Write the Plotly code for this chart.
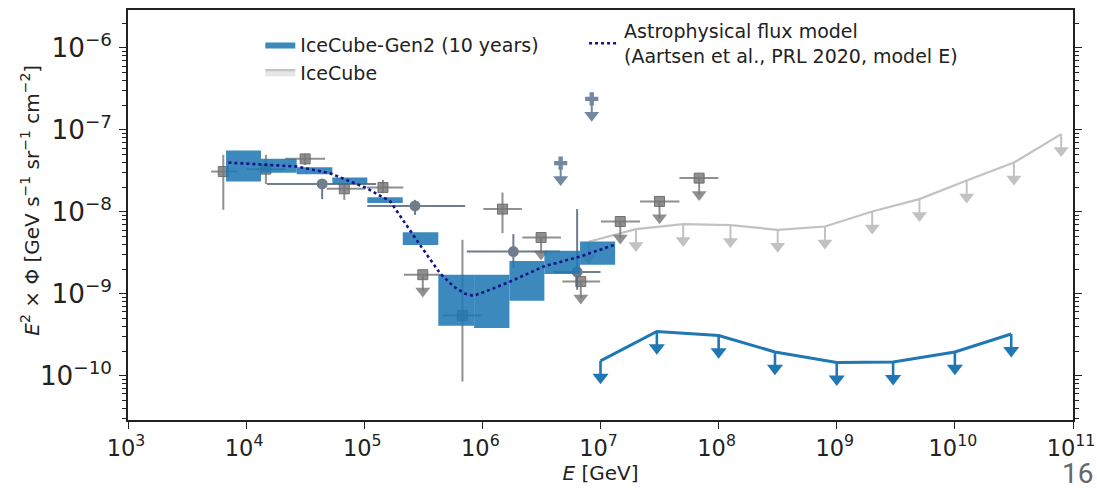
import numpy as np
import plotly.graph_objects as go

# ---------------- data ----------------
# IceCube-Gen2 (10 years): projected flux bands per energy bin
gen2_bin_edges = [10**3.83, 10**4.126, 10**4.428, 10**4.73, 10**5.026, 10**5.326,
                  10**5.627, 10**5.93, 10**6.229, 10**6.525, 10**6.827, 10**7.124]
gen2_flux_lo = [2.34e-8, 3.01e-8, 2.88e-8, 2.19e-8, 1.28e-8, 3.93e-9,
                4.07e-10, 3.82e-10, 8.22e-10, 1.75e-9, 2.26e-9]
gen2_flux_hi = [5.60e-8, 4.43e-8, 3.51e-8, 2.63e-8, 1.51e-8, 5.65e-9,
                1.71e-9, 1.71e-9, 2.52e-9, 3.34e-9, 4.35e-9]

# IceCube-Gen2 (10 years): UHE differential upper limits
gen2_ul_E = [1e7, 3e7, 1e8, 3e8, 1e9, 3e9, 1e10, 3e10]
gen2_ul_flux = [1.52e-10, 3.47e-10, 3.10e-10, 1.95e-10, 1.45e-10, 1.47e-10, 1.95e-10, 3.23e-10]

# Astrophysical flux model (Aartsen et al., PRL 2020, model E)
model_E = [10**3.85, 10**4.43, 10**4.71, 10**5.02, 10**5.22, 10**5.41, 10**5.47, 10**5.64,
           10**5.755, 10**5.853, 10**5.924, 10**6.065, 10**6.235, 10**6.517, 10**6.827, 10**7.124]
model_flux = [3.99e-8, 3.57e-8, 2.96e-8, 1.95e-8, 1.34e-8, 5.25e-9, 3.98e-9, 1.79e-9,
              1.23e-9, 1.00e-9, 9.46e-10, 1.12e-9, 1.41e-9, 2.15e-9, 2.85e-9, 3.98e-9]

# IceCube: unfolded spectrum (squares)
sq_E = [6.41e3, 1.47e4, 3.16e4, 6.78e4, 1.44e5, 6.78e5, 1.48e6]
sq_E_lo = [5.05e3, 1.00e4, 2.13e4, 4.81e4, 1.05e5, 4.65e5, 1.02e6]
sq_E_hi = [8.38e3, 2.14e4, 4.66e4, 1.02e5, 2.14e5, 9.89e5, 2.16e6]
sq_flux = [3.10e-8, 3.32e-8, 4.43e-8, 1.91e-8, 1.98e-8, 5.43e-10, 1.08e-8]
sq_flux_lo = [1.06e-8, 2.19e-8, 3.74e-8, 1.40e-8, 1.69e-8, 8.5e-11, 5.5e-9]
sq_flux_hi = [4.95e-8, 4.95e-8, 5.09e-8, 2.19e-8, 2.45e-8, 4.56e-9, 1.72e-8]

# IceCube: unfolded spectrum upper limits (squares)
sq_ul_E = [3.13e5, 3.14e6, 6.81e6, 1.47e7, 3.16e7, 6.84e7]
sq_ul_E_lo = [2.17e5, 2.18e6, 4.75e6, 1.01e7, 2.16e7, 4.66e7]
sq_ul_E_hi = [4.53e5, 4.63e6, 9.93e6, 2.16e7, 4.66e7, 9.95e7]
sq_ul_flux = [1.71e-9, 4.86e-9, 1.41e-9, 7.62e-9, 1.34e-8, 2.58e-8]

# IceCube: cascade spectrum (circles)
circ_E = [4.40e4, 2.69e5, 1.83e6, 6.34e6]
circ_E_lo = [1.50e4, 1.06e5, 7.38e5, 3.98e6]
circ_E_hi = [1.26e5, 7.14e5, 4.55e6, 1.00e7]
circ_flux = [2.19e-8, 1.18e-8, 3.28e-9, 1.85e-9]
circ_flux_lo = [1.43e-8, 9.18e-9, 2.09e-9, 1.12e-9]
circ_flux_hi = [2.51e-8, 1.40e-8, 5.35e-9, 1.08e-8]

# IceCube: cascade spectrum upper limits (crosses)
cross_ul_E = [4.60e6, 8.43e6]
cross_ul_flux = [3.93e-8, 2.39e-7]

# IceCube: EHE differential upper limits
ehe_E = [10**6.9, 10**7.3, 10**7.7, 10**8.1, 10**8.5, 10**8.9,
         10**9.3, 10**9.7, 10**10.1, 10**10.5, 10**10.9]
ehe_flux = [4.31e-9, 6.15e-9, 7.08e-9, 6.89e-9, 6.03e-9, 6.62e-9,
            1.01e-8, 1.43e-8, 2.41e-8, 3.99e-8, 8.87e-8]

# ---------------- styling ----------------
BLUE = "#1f77b4"
BOX_FILL = "rgba(31,119,180,0.87)"
GRAY_SQ = "rgba(120,120,120,0.82)"
SLATE = "#56677a"
SLATE_LIGHT = "#7389a2"
EHE_GRAY = "#c2c2c2"
NAVY = "#14148a"
FONT = "DejaVu Sans"
ARROW_STEM = 10 ** (-0.2)   # arrow head centre, in decades below the limit

fig = go.Figure()


def add_upper_limits(E, flux, color, head_size, stem_width):
    """Draw down arrows below each upper limit value."""
    xs, ys = [], []
    for e, f in zip(E, flux):
        xs += [e, e, None]
        ys += [f, f * ARROW_STEM, None]
    fig.add_trace(go.Scatter(x=xs, y=ys, mode="lines",
                             line=dict(color=color, width=stem_width),
                             showlegend=False, hoverinfo="skip"))
    fig.add_trace(go.Scatter(x=list(E), y=[f * ARROW_STEM for f in flux], mode="markers",
                             marker=dict(symbol="triangle-down", size=head_size, color=color,
                                         line=dict(width=0)),
                             showlegend=False, hoverinfo="skip"))


# IceCube EHE upper-limit curve (traced out and back so the legend shows a patch)
fig.add_trace(go.Scatter(x=ehe_E + ehe_E[::-1], y=ehe_flux + ehe_flux[::-1], mode="lines",
                         fill="toself", fillcolor="#e6e6e6",
                         line=dict(color=EHE_GRAY, width=2.2),
                         name="IceCube", legendrank=2, hoverinfo="skip"))
add_upper_limits(ehe_E, ehe_flux, EHE_GRAY, 13, 2)

# IceCube squares with error bars
sq_E_a, sq_f_a = np.array(sq_E), np.array(sq_flux)
fig.add_trace(go.Scatter(
    x=sq_E, y=sq_flux, mode="markers",
    marker=dict(symbol="square", size=10, color=GRAY_SQ,
                line=dict(width=1, color="rgba(105,105,105,0.9)")),
    error_x=dict(type="data", array=np.array(sq_E_hi) - sq_E_a,
                 arrayminus=sq_E_a - np.array(sq_E_lo), width=0, thickness=2, color=GRAY_SQ),
    error_y=dict(type="data", array=np.array(sq_flux_hi) - sq_f_a,
                 arrayminus=sq_f_a - np.array(sq_flux_lo), width=0, thickness=2, color=GRAY_SQ),
    showlegend=False, hoverinfo="skip"))

# IceCube square upper limits
sq_ul_E_a = np.array(sq_ul_E)
add_upper_limits(sq_ul_E, sq_ul_flux, GRAY_SQ, 13, 2)
fig.add_trace(go.Scatter(
    x=sq_ul_E, y=sq_ul_flux, mode="markers",
    marker=dict(symbol="square", size=10, color=GRAY_SQ,
                line=dict(width=1, color="rgba(105,105,105,0.9)")),
    error_x=dict(type="data", array=np.array(sq_ul_E_hi) - sq_ul_E_a,
                 arrayminus=sq_ul_E_a - np.array(sq_ul_E_lo), width=0, thickness=2, color=GRAY_SQ),
    showlegend=False, hoverinfo="skip"))

# IceCube circles with error bars
c_E_a, c_f_a = np.array(circ_E), np.array(circ_flux)
fig.add_trace(go.Scatter(
    x=circ_E, y=circ_flux, mode="markers",
    marker=dict(symbol="circle", size=11, color=SLATE, line=dict(width=0)),
    error_x=dict(type="data", array=np.array(circ_E_hi) - c_E_a,
                 arrayminus=c_E_a - np.array(circ_E_lo), width=0, thickness=2, color=SLATE),
    error_y=dict(type="data", array=np.array(circ_flux_hi) - c_f_a,
                 arrayminus=c_f_a - np.array(circ_flux_lo), width=0, thickness=2, color=SLATE),
    opacity=0.85, showlegend=False, hoverinfo="skip"))

# IceCube cross upper limits
add_upper_limits(cross_ul_E, cross_ul_flux, SLATE_LIGHT, 13, 2)
fig.add_trace(go.Scatter(x=cross_ul_E, y=cross_ul_flux, mode="markers",
                         marker=dict(symbol="cross", size=11, color=SLATE_LIGHT, line=dict(width=0)),
                         showlegend=False, hoverinfo="skip"))

# IceCube-Gen2 flux bands
for i in range(len(gen2_flux_lo)):
    lo_e, hi_e = gen2_bin_edges[i], gen2_bin_edges[i + 1]
    f0, f1 = gen2_flux_lo[i], gen2_flux_hi[i]
    fig.add_trace(go.Scatter(
        x=[lo_e, hi_e, hi_e, lo_e, lo_e], y=[f0, f0, f1, f1, f0],
        mode="lines", fill="toself", fillcolor=BOX_FILL, line=dict(width=0, color=BOX_FILL),
        name="IceCube-Gen2 (10 years)", legendgroup="gen2", legendrank=1,
        showlegend=(i == 0), hoverinfo="skip"))

# Astrophysical flux model
fig.add_trace(go.Scatter(x=model_E, y=model_flux, mode="lines",
                         line=dict(color=NAVY, width=2.6, dash="dot"),
                         name="Astrophysical flux model<br>(Aartsen et al., PRL 2020, model E)",
                         legend="legend2", hoverinfo="skip"))

# IceCube-Gen2 UHE upper limits
fig.add_trace(go.Scatter(x=gen2_ul_E, y=gen2_ul_flux, mode="lines",
                         line=dict(color=BLUE, width=3),
                         showlegend=False, hoverinfo="skip"))
add_upper_limits(gen2_ul_E, gen2_ul_flux, BLUE, 14, 2.6)

axis_common = dict(type="log", dtick=1, exponentformat="power", showexponent="all",
                   showgrid=False, zeroline=False, showline=True, linecolor="#222",
                   linewidth=1.5, ticks="outside", ticklen=7, tickwidth=1.4,
                   tickcolor="#222", ticklabeloverflow="allow",
                   automargin=False, tickfont=dict(family=FONT, size=18, color="#222"))

fig.update_layout(
    width=1097, height=490,
    margin=dict(l=128, r=24, t=10, b=70, autoexpand=False),
    paper_bgcolor="white", plot_bgcolor="white",
    font=dict(family=FONT, color="#222"),
    xaxis=dict(axis_common, range=[3, 11], mirror=True, ticklabelstandoff=1, ticklabelshift=-2,
               title=dict(text="<i>E</i> [GeV]", font=dict(family=FONT, size=20), standoff=3)),
    yaxis=dict(axis_common, range=[-10.54, -5.537], mirror="allticks", ticklabelstandoff=3,
               tickfont=dict(family=FONT, size=21, color="#222"),
               minor=dict(ticks="outside", ticklen=4, tickwidth=1, tickcolor="#222", showgrid=False)),
    legend=dict(x=0.14, y=0.962, xanchor="left", yanchor="top", bgcolor="rgba(0,0,0,0)",
                font=dict(family=FONT, size=19, color="#222"), tracegroupgap=0),
    legend2=dict(x=0.4826, y=0.995, xanchor="left", yanchor="top", bgcolor="rgba(0,0,0,0)",
                 font=dict(family=FONT, size=19, color="#222")),
    annotations=[
        dict(text="<i>E</i><sup>2</sup> × Φ [GeV s<sup>−1</sup> sr<sup>−1</sup> cm<sup>−2</sup>]",
             xref="paper", yref="paper", x=-0.1037, y=0.535, textangle=-90,
             xanchor="center", yanchor="middle", showarrow=False,
             font=dict(family=FONT, size=20, color="#222")),
        dict(text="16", xref="paper", yref="paper", x=1.0233, y=-0.13,
             xanchor="right", yanchor="middle", showarrow=False,
             font=dict(family="Roboto", size=28, color="#666")),
    ],
)

fig.write_html("out.html")
